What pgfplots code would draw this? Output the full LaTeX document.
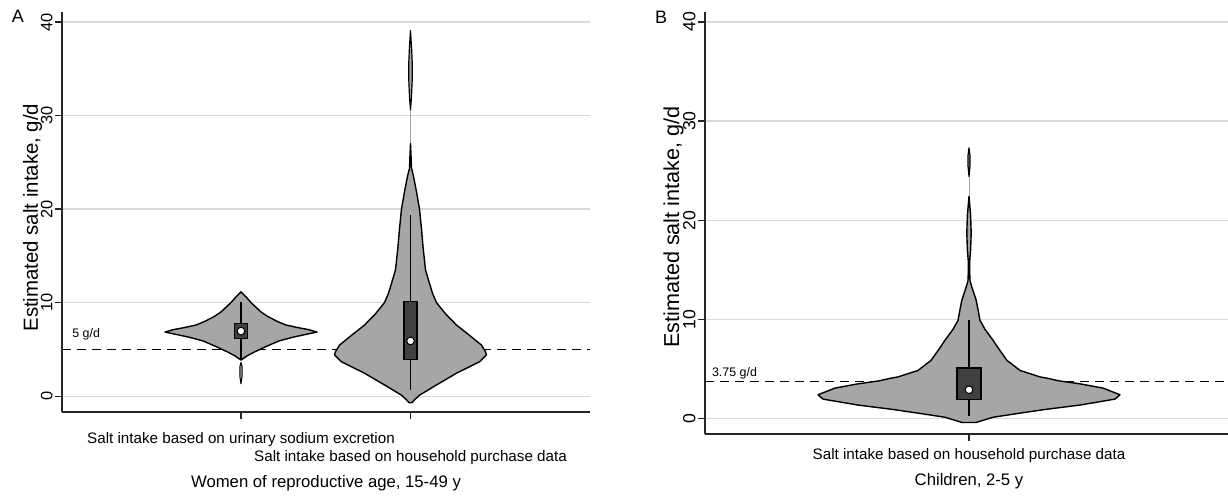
\documentclass[border=0pt]{standalone}
\usepackage{fontspec}
\setmainfont{Liberation Sans}
\usepackage{pgfplots}
\pgfplotsset{compat=1.18}
\usepackage{pgfplotstable}
\definecolor{violingray}{RGB}{166,166,166}
\definecolor{boxgray}{RGB}{64,64,64}
\definecolor{gridgray}{RGB}{217,217,217}

% violin outlines: y value and signed half-width (right side up, left side down)
\pgfplotstableread{
y w
3.85 0
4.3 6
4.75 14
5.3 25
5.9 38
6.3 52
6.6 65
6.85 76
7.1 68
7.3 58
7.6 45
8.0 36
8.5 27
9.0 20
9.5 15
10.0 10
10.5 6
11.15 0
10.5 -6
10.0 -10
9.5 -15
9.0 -20
8.5 -27
8.0 -36
7.6 -45
7.3 -58
7.1 -68
6.85 -76
6.6 -65
6.3 -52
5.9 -38
5.3 -25
4.75 -14
4.3 -6
}\vUrine
\pgfplotstableread{
y w
1.3 0
2.0 1.0
2.6 1.2
3.2 1.0
3.6 0
3.2 -1.0
2.6 -1.2
2.0 -1.0
}\vUrineTail
\pgfplotstableread{
y w
-0.7 1.5
-0.4 4
0.1 9
1.0 23
2.45 46
3.67 69
4.4 76
4.75 75
5.45 71
6.5 59
7.6 46
8.8 35
10.0 26
11.0 22
12.05 19
13.5 15
16.0 12.5
17.9 11
20.0 9
21.85 6
23.5 3
24.35 1
25.5 0.6
27.0 0
25.5 -0.6
24.35 -1
23.5 -3
21.85 -6
20.0 -9
17.9 -11
16.0 -12.5
13.5 -15
12.05 -19
11.0 -22
10.0 -26
8.8 -35
7.6 -46
6.5 -59
5.45 -71
4.75 -75
4.4 -76
3.67 -69
2.45 -46
1.0 -23
0.1 -9
-0.4 -4
-0.7 -1.5
}\vHouseW
\pgfplotstableread{
y w
30.6 0
32.0 1
34.0 1.8
35.5 1.8
37.0 1.2
39.1 0
37.0 -1.2
35.5 -1.8
34.0 -1.8
32.0 -1
}\vHouseWTop
\pgfplotstableread{
y w
-0.4 7
0.13 24
0.5 48
0.9 75
1.36 111
1.96 146
2.4 151
3.07 134
3.5 111
3.8 90
4.05 79
4.2 71
4.85 51
5.4 44
5.86 38
7.0 30
7.9 24
9.0 16
9.9 11
11.0 9
12.0 7
12.6 5
13.3 2.7
13.9 1
15.0 0.6
16.0 0.8
17.0 1.6
18.7 2.2
20.5 1.6
22.4 0
20.5 -1.6
18.7 -2.2
17.0 -1.6
16.0 -0.8
15.0 -0.6
13.9 -1
13.3 -2.7
12.6 -5
12.0 -7
11.0 -9
9.9 -11
9.0 -16
7.9 -24
7.0 -30
5.86 -38
5.4 -44
4.85 -51
4.2 -71
4.05 -79
3.8 -90
3.5 -111
3.07 -134
2.4 -151
1.96 -146
1.36 -111
0.9 -75
0.5 -48
0.13 -24
-0.4 -7
}\vHouseC
\pgfplotstableread{
y w
24.4 0
25.5 1
26.5 1
27.3 0
26.5 -1
25.5 -1
}\vHouseCTop

\pgfplotsset{
  stata/.style={
    scale only axis,
    axis x line*=bottom, axis y line*=left,
    axis line style={line width=0.75pt, black!85, -},
    ytick={0,10,20,30,40},
    ymajorgrids, grid style={gridgray, line width=0.6pt},
    tick align=outside, major tick length=3.5pt,
    tick style={black!85, line width=0.6pt},
    /pgf/number format/assume math mode=true,
    xticklabel style={anchor=base, font=\fontsize{7.6}{9}\selectfont},
  },
  violin/.style={fill=violingray, draw=black, line width=0.7pt, line join=round},
  whisk/.style={black, line width=0.6pt},
  boxp/.style={fill=boxgray, draw=black, line width=0.6pt},
  med/.style={only marks, mark=*, mark size=1.9pt, mark options={fill=white, draw=black, line width=0.5pt}},
  refline/.style={black, line width=0.8pt, dash pattern=on 4.5pt off 3pt},
}

\begin{document}
\begin{tikzpicture}
\path[use as bounding box] (0,0) rectangle (614pt,247.5pt);

\node[font=\fontsize{9}{10}\selectfont] at (9pt,239.2pt) {A};
\node[font=\fontsize{9}{10}\selectfont] at (330.5pt,238.8pt) {B};

% Panel A
\begin{axis}[stata,
  at={(31pt,41.5pt)}, anchor=south west,
  width=264pt, height=200pt,
  xmin=62, xmax=590, ymin=-1.7, ymax=41.07,
  xtick={241,410.5},
  xticklabels={Salt intake based on urinary sodium excretion, \raisebox{-8.75pt}{Salt intake based on household purchase data}},
  xticklabel style={yshift=-12.25pt},
  yticklabel style={rotate=90, anchor=south, inner sep=1pt, font=\fontsize{8.2}{9}\selectfont},
  ylabel={Estimated salt intake, g/d},
  ylabel style={at={(axis description cs:-0.0559,0.486)}, anchor=center, font=\fontsize{10.2}{12}\selectfont},
  xlabel={Women of reproductive age, 15-49 y},
  xlabel style={at={(axis description cs:0.5,-0.1775)}, anchor=center, font=\fontsize{8.35}{10}\selectfont},
]
\addplot[refline] coordinates {(62,5) (590,5)};
\node[anchor=west, inner sep=0pt, font=\fontsize{6.2}{7}\selectfont] at (axis cs:72,6.63) {5 g/d};
% urinary sodium
\addplot[violin] table[x expr=241+\thisrow{w}, y=y] {\vUrine} --cycle;
\addplot[violin, line width=0.5pt] table[x expr=241+\thisrow{w}, y=y] {\vUrineTail} --cycle;
\addplot[whisk] coordinates {(241,3.9) (241,10.1)};
\addplot[boxp] coordinates {(234.5,6.17) (247.5,6.17) (247.5,7.78) (234.5,7.78)} --cycle;
\addplot[med] coordinates {(241,6.95)};
% household purchase
\addplot[black!35, line width=0.4pt] coordinates {(410.5,27) (410.5,30.6)};
\addplot[violin] table[x expr=410.5+\thisrow{w}, y=y] {\vHouseW} --cycle;
\addplot[violin, line width=0.6pt] table[x expr=410.5+\thisrow{w}, y=y] {\vHouseWTop} --cycle;
\addplot[whisk] coordinates {(410.5,0.65) (410.5,19.4)};
\addplot[boxp] coordinates {(404,3.9) (417,3.9) (417,10.1) (404,10.1)} --cycle;
\addplot[med] coordinates {(410.5,5.9)};
\end{axis}

% Panel B
\begin{axis}[stata,
  at={(352.5pt,30.5pt)}, anchor=south west,
  width=264pt, height=211pt,
  xmin=705, xmax=1233, ymin=-1.56, ymax=41.0,
  xtick={969},
  xticklabels={Salt intake based on household purchase data},
  xticklabel style={yshift=-9.25pt},
  yticklabel style={rotate=90, anchor=south, inner sep=1pt, font=\fontsize{8.8}{9}\selectfont},
  ylabel={Estimated salt intake, g/d},
  ylabel style={at={(axis description cs:-0.0597,0.49)}, anchor=center, font=\fontsize{10.8}{12}\selectfont},
  xlabel={Children, 2-5 y},
  xlabel style={at={(axis description cs:0.5,-0.1107)}, anchor=center, font=\fontsize{8.35}{10}\selectfont},
]
\addplot[refline] coordinates {(705,3.75) (1233,3.75)};
\node[anchor=west, inner sep=0pt, font=\fontsize{6.2}{7}\selectfont] at (axis cs:711.7,4.56) {3.75 g/d};
\addplot[black!35, line width=0.4pt] coordinates {(969,22.4) (969,24.4)};
\addplot[violin] table[x expr=969+\thisrow{w}, y=y] {\vHouseC} --cycle;
\addplot[violin, line width=0.6pt] table[x expr=969+\thisrow{w}, y=y] {\vHouseCTop} --cycle;
\addplot[whisk] coordinates {(969,0.3) (969,9.9)};
\addplot[boxp] coordinates {(957,1.9) (981,1.9) (981,5.1) (957,5.1)} --cycle;
\addplot[med] coordinates {(969,2.9)};
\end{axis}
\end{tikzpicture}
\end{document}
